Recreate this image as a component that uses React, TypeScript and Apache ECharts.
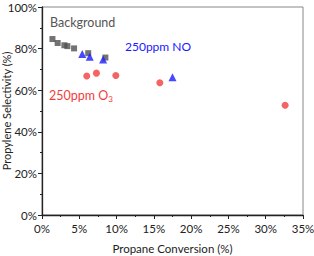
import React, { useEffect, useRef } from "react";
import * as echarts from "echarts";

const backgroundData: [number, number][] = [
  [1.4, 84.6], [2.1, 82.7], [3.0, 81.6], [3.4, 81.2], [4.3, 80.1], [6.2, 77.8], [8.5, 75.7],
];
const noData: [number, number][] = [
  [5.4, 77.4], [6.4, 76.1], [8.2, 74.8], [17.5, 66.2],
];
const o3Data: [number, number][] = [
  [6.0, 66.8], [7.3, 68.2], [9.9, 67.1], [15.8, 63.6], [32.6, 52.8],
];

const FONT = "Lato";

export default function App() {
  const ref = useRef<HTMLDivElement>(null);
  useEffect(() => {
    if (!ref.current) return;
    const chart = echarts.init(ref.current, undefined, { renderer: "svg" });
    const axisCommon = {
      axisLine: { show: true, lineStyle: { color: "#222", width: 1.3 } },
      axisTick: { show: true, inside: false, length: 4, lineStyle: { color: "#222" } },
      minorTick: { show: true, splitNumber: 2, length: 2, lineStyle: { color: "#222" } },
      splitLine: { show: false },
      axisLabel: { color: "#222", fontSize: 11.5, fontFamily: FONT, formatter: "{value}%" },
      nameTextStyle: { color: "#222", fontSize: 11.5, fontFamily: FONT },
      nameMoveOverlap: false,
    };
    chart.setOption({
      animation: false,
      backgroundColor: "#fff",
      grid: {
        left: 42, right: 11, top: 7, bottom: 41,
        containLabel: false, outerBoundsMode: "none",
        show: true, borderColor: "#888", borderWidth: 1,
      },
      xAxis: {
        type: "value",
        min: 0,
        max: 35,
        interval: 5,
        name: "Propane Conversion (%)",
        nameLocation: "middle",
        nameGap: 27,
        ...axisCommon,
        axisLabel: { ...axisCommon.axisLabel, margin: 7 },
      },
      yAxis: {
        type: "value",
        min: 0,
        max: 100,
        interval: 20,
        name: "Propylene Selectivity (%)",
        nameLocation: "middle",
        nameGap: 30,
        ...axisCommon,
        nameTextStyle: { ...axisCommon.nameTextStyle, fontSize: 11 },
        axisLabel: { ...axisCommon.axisLabel, margin: 5 },
      },
      series: [
        {
          type: "scatter",
          name: "Background",
          data: backgroundData,
          symbol: "rect",
          symbolSize: 6,
          itemStyle: { color: "#505050" },
        },
        {
          type: "scatter",
          name: "250ppm NO",
          data: noData,
          symbol: "triangle",
          symbolSize: 8,
          itemStyle: { color: "#1a1aff" },
        },
        {
          type: "scatter",
          name: "250ppm O3",
          data: o3Data,
          symbol: "circle",
          symbolSize: 7,
          itemStyle: { color: "#f23c3c" },
        },
      ],
      graphic: [
        {
          type: "text",
          left: 50,
          top: 16,
          style: { text: "Background", fill: "#555", fontSize: 12.5, fontFamily: FONT },
        },
        {
          type: "text",
          left: 125,
          top: 40,
          style: { text: "250ppm NO", fill: "#1a1aff", fontSize: 12, fontFamily: FONT },
        },
        {
          type: "text",
          left: 49,
          top: 89,
          style: {
            text: "250ppm O{sub|3}",
            fill: "#f23c3c",
            fontSize: 12.5,
            fontFamily: FONT,
            rich: {
              sub: { fontSize: 8, fill: "#f23c3c", fontFamily: FONT, padding: [7, 0, 0, 0] },
            },
          },
        },
      ],
    });
    return () => chart.dispose();
  }, []);
  return <div ref={ref} style={{ width: 314, height: 256, position: "absolute", left: 0, top: 0 }} />;
}
